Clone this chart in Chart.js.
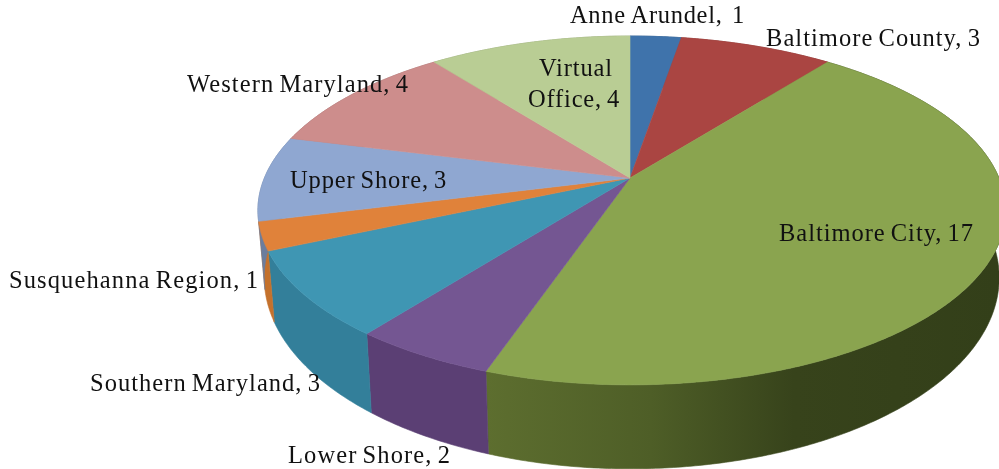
<!DOCTYPE html>
<html>
<head>
<meta charset="utf-8">
<title>Pie</title>
<script src="https://cdn.jsdelivr.net/npm/chart.js@4"></script>
<style>
  html, body { margin: 0; padding: 0; background: #fff; overflow: hidden; }
  canvas { display: block; }
</style>
</head>
<body>
<canvas id="pieChart" width="999" height="469"></canvas>
<script>
const categories = ["Anne Arundel", "Baltimore County", "Baltimore City", "Lower Shore", "Southern Maryland", "Susquehanna Region", "Upper Shore", "Western Maryland", "Virtual Office"];
const values = [1, 3, 17, 2, 3, 1, 3, 4, 4];
const topColors = ["#3f73ab", "#aa4542", "#8aa44f", "#745692", "#3f96b3", "#e0823a", "#8fa7d1", "#cd8d8c", "#b9cd94"];
const sideColors = ["#2f5680", "#803331", "#5c6d2e", "#5b3f74", "#337f9a", "#c4712c", "#6b7d9d", "#9a6a69", "#8b9a6f"];

// where each label sits: left x, baseline y, target width
const labelBoxes = [
  [[570, 23, 175]],
  [[766, 46, 215]],
  [[779, 241, 195]],
  [[288, 463, 163]],
  [[90, 391, 231]],
  [[9, 288, 250]],
  [[290, 188, 157]],
  [[187, 92, 222]],
  [[539, 76, 74], [528, 107, 92]],
];
const labelLines = ["Anne Arundel,  1", "Baltimore County, 3", "Baltimore City, 17", "Lower Shore, 2", "Southern Maryland, 3", "Susquehanna Region, 1", "Upper Shore, 3", "Western Maryland, 4", "Virtual|Office, 4"];

// tilted disc: circle projected so the apex sits above the ellipse centre
const apexX = 630, apexY = 178, scaleLeft = 365.6, scaleRight = 369, scaleY = 168.4, persp = -0.186;

function project(angle) {
  const u = Math.cos(angle), v = Math.sin(angle);
  const w = 1 + persp * v;
  return [apexX + (u > 0 ? scaleRight : scaleLeft) * u / w, apexY + scaleY * v / w];
}

// lower rim is a bit narrower and a bit taller than the top one
function lower(p) {
  return [apexX + 0.983 * (p[0] - apexX), p[1] * 1.096 + 47];
}

function rimPoints(start, end) {
  const pts = [];
  const n = Math.max(2, Math.ceil((end - start) / 0.01));
  for (let i = 0; i <= n; i++) pts.push(project(start + (end - start) * i / n));
  return pts;
}

const disc3d = {
  id: "disc3d",
  // replace the flat arcs with the tilted version, same angles from the chart
  beforeDatasetsDraw(chart) {
    const ctx = chart.ctx;
    const arcs = chart.getDatasetMeta(0).data;
    ctx.save();

    // outer walls first, top faces cover the hidden part
    arcs.forEach((arc, i) => {
      const pts = rimPoints(arc.startAngle, arc.endAngle);
      ctx.beginPath();
      pts.forEach((p, k) => k ? ctx.lineTo(p[0], p[1]) : ctx.moveTo(p[0], p[1]));
      pts.slice().reverse().forEach((p) => {
        const q = lower(p);
        ctx.lineTo(q[0], q[1]);
      });
      ctx.closePath();
      let fill = sideColors[i];
      if (i === 2) {
        // only the big slice shows the light falloff
        const g = ctx.createLinearGradient(487, 0, 999, 0);
        g.addColorStop(0, "#5d6e2f");
        g.addColorStop(0.32, "#4e5e27");
        g.addColorStop(0.6, "#37431b");
        g.addColorStop(1, "#333f19");
        fill = g;
      }
      ctx.fillStyle = fill;
      ctx.strokeStyle = fill;
      ctx.lineWidth = 0.6;
      ctx.fill();
      ctx.stroke();
    });

    arcs.forEach((arc) => {
      const pts = rimPoints(arc.startAngle, arc.endAngle);
      ctx.beginPath();
      ctx.moveTo(apexX, apexY);
      pts.forEach((p) => ctx.lineTo(p[0], p[1]));
      ctx.closePath();
      ctx.fillStyle = arc.options.backgroundColor;
      ctx.strokeStyle = arc.options.backgroundColor;
      ctx.lineWidth = 0.6;
      ctx.fill();
      ctx.stroke();
    });
    ctx.restore();
    return false;
  },
  afterDraw(chart) {
    const ctx = chart.ctx;
    ctx.save();
    ctx.font = '24.5px "Liberation Serif"';
    ctx.fillStyle = "#111";
    ctx.textBaseline = "alphabetic";
    ctx.textAlign = "left";
    ctx.wordSpacing = "-2px"; // the source has tight gaps between words
    ctx.filter = "blur(0.3px)";
    labelLines.forEach((label, i) => {
      label.split("|").forEach((line, k) => {
        const box = labelBoxes[i][k];
        ctx.letterSpacing = "0px";
        const extra = (box[2] - ctx.measureText(line).width) / line.length;
        ctx.letterSpacing = extra.toFixed(2) + "px";
        ctx.fillText(line, box[0], box[1]);
      });
    });
    ctx.restore();
  },
};

new Chart(document.getElementById("pieChart").getContext("2d"), {
  type: "pie",
  data: {
    labels: categories,
    datasets: [{ data: values, backgroundColor: topColors, borderWidth: 0, hoverOffset: 0 }],
  },
  options: {
    responsive: false,
    animation: false,
    events: [],
    plugins: {
      legend: { display: false },
      tooltip: { enabled: false },
    },
  },
  plugins: [disc3d],
});
</script>
</body>
</html>
